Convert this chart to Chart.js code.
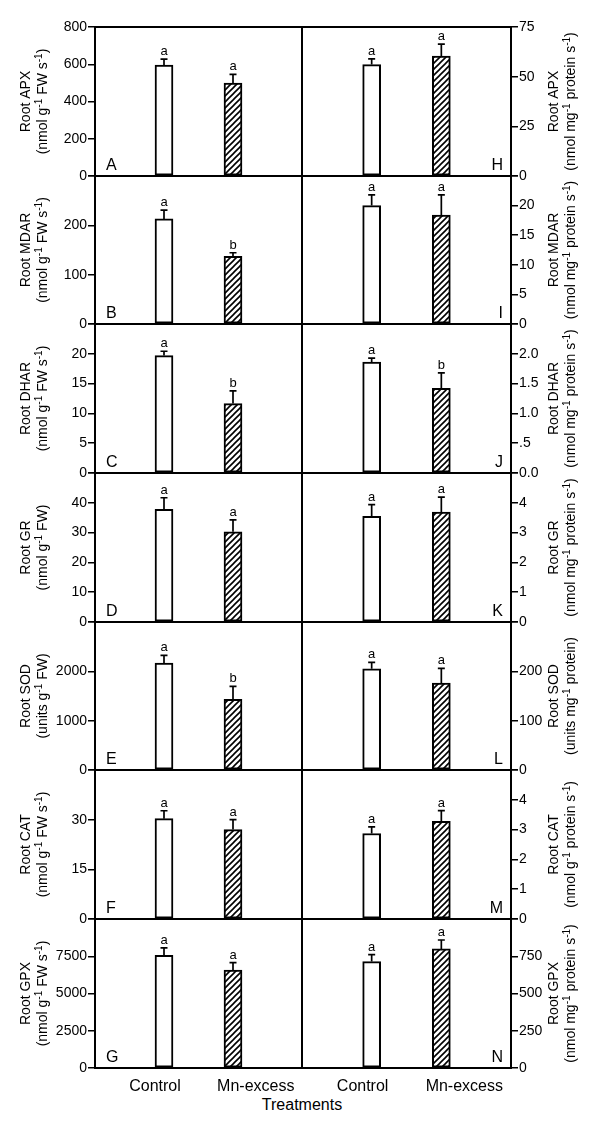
<!DOCTYPE html>
<html>
<head>
<meta charset="utf-8">
<script src="https://cdn.jsdelivr.net/npm/chart.js@4.4.0/dist/chart.umd.min.js"></script>
<style>
  html, body { margin: 0; padding: 0; background: #fff; }
  #fig { position: relative; width: 600px; height: 1126px; overflow: hidden; }
  #fig canvas { position: absolute; }
  #xTitle {
    position: absolute; left: 0; width: 604px; top: 1097px; text-align: center;
    font: 16px Arial, 'Liberation Sans', sans-serif; line-height: 16px; color: #000;
  }
</style>
</head>
<body>
<div id="fig"><div id="xTitle">Treatments</div></div>
<script>
const treatments = ['Control', 'Mn-excess'];
const barPos = [1, 2];          // bar positions on a 0..3 x axis
const labelPos = [0.87, 2.33];  // treatment names sit a bit off the bars

// left column: per g fresh weight
const fwPanel = ['A', 'B', 'C', 'D', 'E', 'F', 'G'];
const fwName = ['Root APX', 'Root MDAR', 'Root DHAR', 'Root GR', 'Root SOD', 'Root CAT', 'Root GPX'];
const fwUnit = [
  '(nmol g{-1} FW s{-1})', '(nmol g{-1} FW s{-1})', '(nmol g{-1} FW s{-1})', '(nmol g{-1} FW)',
  '(units g{-1} FW)', '(nmol g{-1} FW s{-1})', '(nmol g{-1} FW s{-1})'
];
const fwMax = [800, 300, 25, 50, 3000, 45, 10000];
const fwStep = [200, 100, 5, 10, 1000, 15, 2500];
const fwControl = [596, 213, 19.7, 37.8, 2168, 30.3, 7565];
const fwControlErr = [31, 18, 0.73, 3.9, 155, 2.4, 492];
const fwMn = [499, 137, 11.65, 30.25, 1434, 27.0, 6580];
const fwMnErr = [47, 7.4, 2.13, 4.0, 263, 3.0, 492];
const fwSig = [['a', 'a'], ['a', 'b'], ['a', 'b'], ['a', 'a'], ['a', 'b'], ['a', 'a'], ['a', 'a']];

// right column: per mg protein
const protPanel = ['H', 'I', 'J', 'K', 'L', 'M', 'N'];
const protName = ['Root APX', 'Root MDAR', 'Root DHAR', 'Root GR', 'Root SOD', 'Root CAT', 'Root GPX'];
const protUnit = [
  '(nmol mg{-1} protein s{-1})', '(nmol mg{-1} protein s{-1})', '(nmol mg{-1} protein s{-1})',
  '(nmol mg{-1} protein s{-1})', '(units mg{-1} protein)', '(nmol g{-1} protein s{-1})',
  '(nmol mg{-1} protein s{-1})'
];
const protMax = [75, 25, 2.5, 5, 300, 5, 1000];
const protStep = [25, 5, 0.5, 1, 100, 1, 250];
const protControl = [56.1, 20.0, 1.86, 3.55, 205, 2.87, 714];
const protControlErr = [2.9, 1.8, 0.067, 0.39, 13, 0.22, 47];
const protMn = [60.3, 18.4, 1.42, 3.69, 176, 3.28, 799];
const protMnErr = [6.1, 3.4, 0.26, 0.5, 30, 0.36, 60];
const protSig = [['a', 'a'], ['a', 'a'], ['a', 'b'], ['a', 'a'], ['a', 'a'], ['a', 'a'], ['a', 'a']];

const FONT = 'Arial, "Liberation Sans", sans-serif';
Chart.defaults.font.family = FONT;
Chart.defaults.color = '#000';

const fig = document.getElementById('fig');
const rowTop = (r) => Math.round(27 + r * 148.67);

// diagonal hatch for the Mn-excess bars
function hatch() {
  const c = document.createElement('canvas');
  c.width = 6; c.height = 6;
  const g = c.getContext('2d');
  g.fillStyle = '#fff';
  g.fillRect(0, 0, 6, 6);
  g.strokeStyle = '#000';
  g.lineWidth = 1.6;
  g.beginPath();
  g.moveTo(-1, 7); g.lineTo(7, -1);
  g.moveTo(-1, 1); g.lineTo(1, -1);
  g.moveTo(5, 7); g.lineTo(7, 5);
  g.stroke();
  return g.createPattern(c, 'repeat');
}
const hatchFill = hatch();

// text with {superscript} parts, centred on u = 0, baseline at v = 0
function richText(ctx, text) {
  const parts = text.split(/\{([^}]*)\}/);
  const fonts = parts.map((p, i) => (i % 2 ? '10px ' : '14px ') + FONT);
  const widths = parts.map((p, i) => { ctx.font = fonts[i]; return ctx.measureText(p).width; });
  let u = -widths.reduce((s, w) => s + w, 0) / 2;
  parts.forEach((p, i) => {
    ctx.font = fonts[i];
    ctx.fillText(p, u, i % 2 ? -5 : 0);
    u += widths[i];
  });
}

function panel(col, row) {
  const left = col === 0;
  const letter = (left ? fwPanel : protPanel)[row];
  const name = (left ? fwName : protName)[row];
  const unit = (left ? fwUnit : protUnit)[row];
  const max = (left ? fwMax : protMax)[row];
  const step = (left ? fwStep : protStep)[row];
  const means = left ? [fwControl[row], fwMn[row]] : [protControl[row], protMn[row]];
  const errs = left ? [fwControlErr[row], fwMnErr[row]] : [protControlErr[row], protMnErr[row]];
  const sig = (left ? fwSig : protSig)[row];
  const last = row === 6;

  const top = rowTop(row), bottom = rowTop(row + 1);
  const padTop = 30, padBottom = last ? 60 : 30;
  const cvLeft = left ? 0 : 290;
  const cvWidth = left ? 320 : 310;
  const cv = document.createElement('canvas');
  cv.width = cvWidth;
  cv.height = bottom - top + padTop + padBottom;
  cv.style.left = cvLeft + 'px';
  cv.style.top = (top - padTop) + 'px';
  fig.appendChild(cv);

  const fmt = (v) => {
    if (row > 0 && v === max) return '';
    if (step < 1) return v > 0 && v < 1 ? v.toFixed(1).slice(1) : v.toFixed(1);
    return String(v);
  };
  const titleBase = left ? [30, 47] : [558, 575];

  const decor = {
    id: 'decor',
    afterDatasetsDraw(chart) {
      const ctx = chart.ctx, ys = chart.scales.y, xs = chart.scales.x, a = chart.chartArea;
      const bars = chart.getDatasetMeta(0).data;
      ctx.save();
      ctx.strokeStyle = '#000';
      ctx.fillStyle = '#000';
      // error bars (upper only) and significance letters
      bars.forEach((bar, i) => {
        const yTop = ys.getPixelForValue(means[i] + errs[i]);
        ctx.lineWidth = 1.7;
        ctx.beginPath();
        ctx.moveTo(bar.x, bar.y); ctx.lineTo(bar.x, yTop);
        ctx.moveTo(bar.x - 3.5, yTop); ctx.lineTo(bar.x + 3.5, yTop);
        ctx.stroke();
        ctx.font = '13px ' + FONT;
        ctx.textAlign = 'center';
        ctx.textBaseline = 'alphabetic';
        ctx.fillText(sig[i], bar.x, yTop - 4);
      });
      // panel frame
      ctx.lineWidth = 2;
      ctx.strokeRect(a.left, a.top, a.right - a.left, a.bottom - a.top);
      // panel letter
      ctx.font = '16px ' + FONT;
      ctx.textBaseline = 'alphabetic';
      ctx.textAlign = left ? 'left' : 'right';
      ctx.fillText(letter, left ? a.left + 11 : a.right - 8, a.bottom - 6);
      // treatment names under the bottom row
      if (last) {
        ctx.textAlign = 'center';
        treatments.forEach((t, i) => ctx.fillText(t, xs.getPixelForValue(labelPos[i]), a.bottom + 23));
      }
      // two-line rotated axis title
      ctx.textAlign = 'left';
      [name, unit].forEach((line, i) => {
        ctx.save();
        ctx.translate(titleBase[i] - cvLeft, (a.top + a.bottom) / 2);
        ctx.rotate(-Math.PI / 2);
        richText(ctx, line);
        ctx.restore();
      });
      ctx.restore();
    }
  };

  new Chart(cv, {
    type: 'bar',
    data: {
      datasets: [{
        data: barPos.map((x, i) => ({ x, y: means[i] })),
        backgroundColor: ['#fff', hatchFill],
        borderColor: '#000',
        borderWidth: 2,
        borderSkipped: false,
        barThickness: 18,
      }],
    },
    options: {
      responsive: false,
      animation: false,
      events: [],
      layout: { padding: { top: padTop, bottom: padBottom, left: left ? 0 : 12, right: left ? 18 : 0 } },
      plugins: { legend: { display: false }, tooltip: { enabled: false } },
      scales: {
        x: { type: 'linear', min: 0, max: 3, offset: false, display: false },
        y: {
          position: left ? 'left' : 'right',
          min: 0,
          max,
          afterFit: (s) => { s.width = left ? 95 : 89; },
          ticks: { stepSize: step, autoSkip: false, padding: 1, color: '#000', font: { size: 14 }, callback: fmt },
          grid: { display: true, drawOnChartArea: false, drawTicks: true, tickLength: 7, color: '#000', lineWidth: 1.5 },
          border: { display: false },
        },
      },
    },
    plugins: [decor],
  });
}

for (let r = 0; r < 7; r++) {
  panel(0, r);
  panel(1, r);
}
</script>
</body>
</html>
